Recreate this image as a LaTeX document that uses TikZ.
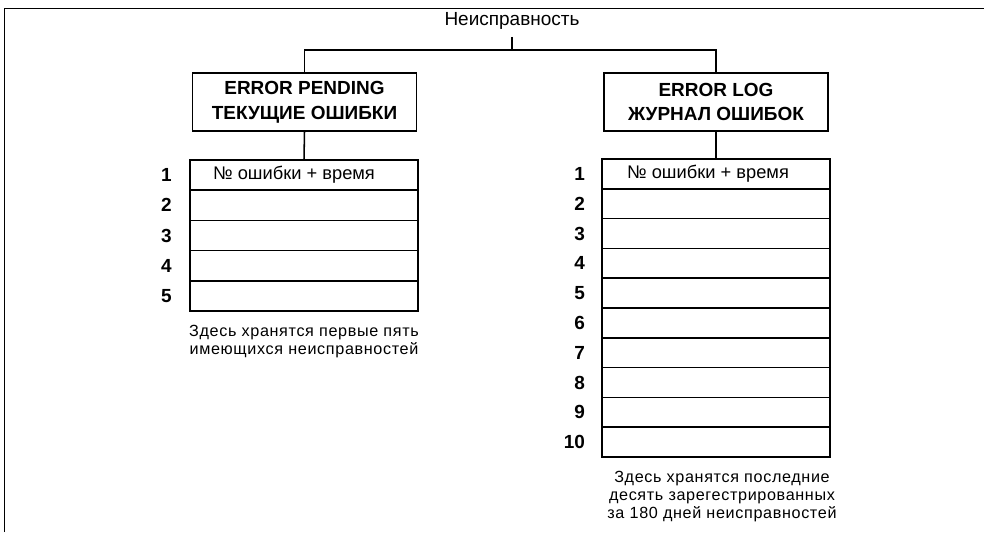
\documentclass[tikz,border=0pt]{standalone}
\usepackage{fontspec}
\setmainfont{Liberation Sans}
\newfontfamily\wideface[LetterSpace=4]{Liberation Sans}
\usetikzlibrary{positioning}

\begin{document}
\begin{tikzpicture}[x=0.025cm, y=-0.025cm,
    frame/.style={line width=1.4pt},
    link/.style={line width=1.1pt},
    headbox/.style={draw, line width=1.2pt, minimum width=5.6cm, minimum height=1.45cm,
        align=center, outer sep=0pt, font=\fontsize{13.5}{17.5}\selectfont\bfseries},
    cell/.style={draw, line width=1.1pt, minimum width=5.7cm, minimum height=#1,
        inner sep=0pt, outer sep=0pt, font=\fontsize{13}{15}\selectfont},
    num/.style={anchor=east, inner sep=0pt, font=\fontsize{13.5}{15}\selectfont\bfseries},
    note/.style={align=center, inner sep=0pt, font=\wideface\fontsize{11.5}{12.8}\selectfont}]

    \useasboundingbox (0,0) rectangle (984,532);

    % Frame
    \draw[frame] (4.5,532) -- (4.5,8.5) -- (984,8.5);

    % Title and the two buffers
    \node[font=\fontsize{13.5}{15}\selectfont, inner sep=5pt] (fault) at (512,21) {Неисправность};
    \coordinate (split) at (512,50);
    \node[headbox] (pending) at (304.5,102) {ERROR PENDING\\ТЕКУЩИЕ ОШИБКИ};
    \node[headbox] (log) at (716,102) {ERROR LOG\\ЖУРНАЛ ОШИБОК};

    \draw[link] (fault.south) -- (split);
    \draw[link] (pending.north) |- (split) -| (log.north);

    % Table of pending errors
    \node[cell=0.755cm] (p1) at (304,175.1) {\hspace*{-0.5cm}№ ошибки + время};
    \foreach \i [count=\j from 1] in {2,...,5}
        \node[cell=0.755cm, below=0pt of p\j] (p\i) {};
    \foreach \i in {1,...,5}
        \node[num] (pn\i) at ([xshift=-0.45cm]p\i.west) {\i};
    \draw[link] (pending.south) -- (p1.north);
    \node[note, below=0.35cm of p5] (pnote) {Здесь хранятся первые пять\\имеющихся неисправностей};

    % Table of the error log
    \node[cell=0.745cm] (l1) at (716,173.9) {\hspace*{-0.4cm}№ ошибки + время};
    \foreach \i [count=\j from 1] in {2,...,10}
        \node[cell=0.745cm, below=0pt of l\j] (l\i) {};
    \foreach \i in {1,...,10}
        \node[num] (ln\i) at ([xshift=-0.42cm]l\i.west) {\i};
    \draw[link] (log.south) -- (l1.north);
    \node[note, below=0.35cm of l10, xshift=0.15cm] (lnote) {Здесь хранятся последние\\десять зарегестрированных\\за 180 дней неисправностей};

\end{tikzpicture}
\end{document}
